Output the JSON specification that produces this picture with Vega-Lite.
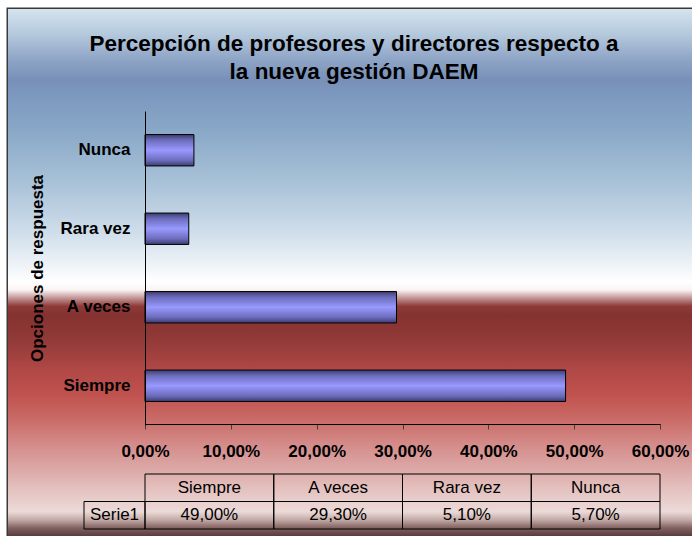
{
  "$schema": "https://vega.github.io/schema/vega-lite/v6.json",
  "width": 684,
  "height": 527,
  "autosize": {"type": "none"},
  "padding": {"left": 8, "top": 9, "right": 0, "bottom": 0},
  "background": "white",
  "config": {
    "font": "Liberation Sans",
    "locale": {"number": {"decimal": ",", "thousands": ".", "grouping": [3], "currency": ["$", ""]}},
    "view": {"stroke": "#3a3a3a", "strokeWidth": 3}
  },
  "title": {
    "text": ["Percepción de profesores y directores respecto a", "la nueva gestión DAEM"],
    "font": "Liberation Sans",
    "fontSize": 22.5,
    "fontWeight": "bold",
    "color": "black",
    "anchor": "middle",
    "frame": "group",
    "baseline": "top",
    "lineHeight": 28,
    "offset": -74,
    "dx": 4
  },
  "datasets": {
    "resp": [
      {"opcion": "Siempre", "valor": 0.49},
      {"opcion": "A veces", "valor": 0.293},
      {"opcion": "Rara vez", "valor": 0.051},
      {"opcion": "Nunca", "valor": 0.057}
    ]
  },
  "layer": [
    {
      "data": {"values": [{"fondo": "gradiente"}]},
      "mark": {
        "type": "rect",
        "fill": {
          "gradient": "linear", "x1": 0, "y1": 0, "x2": 0, "y2": 1,
          "stops": [
            {"offset": 0.0, "color": "#d4e4ef"},
            {"offset": 0.049, "color": "#b4c8dc"},
            {"offset": 0.097, "color": "#8ea4c6"},
            {"offset": 0.135, "color": "#7890b8"},
            {"offset": 0.163, "color": "#7c98bf"},
            {"offset": 0.23, "color": "#89a8c7"},
            {"offset": 0.324, "color": "#a6c0d6"},
            {"offset": 0.419, "color": "#cddcea"},
            {"offset": 0.486, "color": "#eef3f7"},
            {"offset": 0.518, "color": "#ffffff"},
            {"offset": 0.533, "color": "#faf4f4"},
            {"offset": 0.548, "color": "#c49898"},
            {"offset": 0.564, "color": "#8e3a38"},
            {"offset": 0.581, "color": "#843230"},
            {"offset": 0.628, "color": "#923a38"},
            {"offset": 0.685, "color": "#b04846"},
            {"offset": 0.732, "color": "#c0524e"},
            {"offset": 0.78, "color": "#ca6c68"},
            {"offset": 0.827, "color": "#d48c8a"},
            {"offset": 0.875, "color": "#dcaaa8"},
            {"offset": 0.922, "color": "#e6c8c6"},
            {"offset": 0.954, "color": "#ecdad8"},
            {"offset": 0.97, "color": "#c0a8a4"},
            {"offset": 0.985, "color": "#806060"},
            {"offset": 1.0, "color": "#5a3c3c"}
          ]
        }
      },
      "encoding": {}
    },
    {
      "data": {"name": "resp"},
      "mark": {
        "type": "bar",
        "stroke": "black",
        "strokeWidth": 1,
        "fill": {
          "gradient": "linear", "x1": 0, "y1": 0, "x2": 0, "y2": 1,
          "stops": [
            {"offset": 0, "color": "#3c3c70"},
            {"offset": 0.18, "color": "#6c6cbc"},
            {"offset": 0.5, "color": "#9999ff"},
            {"offset": 0.82, "color": "#6c6cbc"},
            {"offset": 1, "color": "#3c3c70"}
          ]
        }
      },
      "encoding": {
        "x": {
          "field": "valor",
          "type": "quantitative",
          "scale": {"domain": [0, 0.6], "range": [137, 652], "nice": false, "zero": true},
          "axis": {
            "zindex": 1,
            "values": [0, 0.1, 0.2, 0.3, 0.4, 0.5, 0.6],
            "format": ".2%",
            "offset": -112,
            "title": null,
            "grid": false,
            "domainColor": "black",
            "domainWidth": 1,
            "tickColor": "#404040",
            "tickSize": 5,
            "labelFont": "Liberation Sans",
            "labelFontSize": 17,
            "labelFontWeight": "bold",
            "labelColor": "black",
            "labelBaseline": "alphabetic",
            "labelPadding": 27,
            "labelFlush": false,
            "labelOverlap": false
          }
        },
        "y": {
          "field": "opcion",
          "type": "nominal",
          "scale": {"domain": ["Nunca", "Rara vez", "A veces", "Siempre"], "range": [102, 416], "paddingInner": 0.6, "paddingOuter": 0.3},
          "axis": {
            "zindex": 1,
            "offset": -137,
            "title": "Opciones de respuesta",
            "titleFont": "Liberation Sans",
            "titleFontSize": 17,
            "titleFontWeight": "bold",
            "titleColor": "black",
            "titlePadding": 14,
            "domainColor": "black",
            "domainWidth": 1,
            "ticks": false,
            "tickSize": 0,
            "labelFont": "Liberation Sans",
            "labelFontSize": 17,
            "labelFontWeight": "bold",
            "labelColor": "black",
            "labelPadding": 15,
            "labelLimit": 300
          }
        }
      }
    },
    {
      "data": {"name": "resp"},
      "encoding": {
        "x": {
          "field": "opcion",
          "type": "nominal",
          "scale": {"type": "band", "domain": ["Siempre", "A veces", "Rara vez", "Nunca"], "range": [137, 652], "paddingInner": 0, "paddingOuter": 0},
          "axis": null
        }
      },
      "layer": [
        {
          "mark": {"type": "rect", "fillOpacity": 0, "stroke": "black", "strokeWidth": 1},
          "encoding": {
            "y": {"datum": "cabecera", "type": "nominal", "scale": {"type": "band", "domain": ["cabecera", "valores"], "range": [465, 520], "paddingInner": 0, "paddingOuter": 0}, "axis": null}
          }
        },
        {
          "mark": {"type": "rect", "fillOpacity": 0, "stroke": "black", "strokeWidth": 1},
          "encoding": {
            "y": {"datum": "valores", "type": "nominal", "scale": {"type": "band", "domain": ["cabecera", "valores"], "range": [465, 520], "paddingInner": 0, "paddingOuter": 0}, "axis": null}
          }
        },
        {
          "mark": {"type": "text", "font": "Liberation Sans", "fontSize": 17, "color": "black", "baseline": "middle", "align": "center"},
          "encoding": {
            "y": {"datum": "cabecera", "type": "nominal", "scale": {"type": "band", "domain": ["cabecera", "valores"], "range": [465, 520], "paddingInner": 0, "paddingOuter": 0}, "axis": null},
            "text": {"field": "opcion", "type": "nominal"}
          }
        },
        {
          "mark": {"type": "text", "font": "Liberation Sans", "fontSize": 17, "color": "black", "baseline": "middle", "align": "center"},
          "encoding": {
            "y": {"datum": "valores", "type": "nominal", "scale": {"type": "band", "domain": ["cabecera", "valores"], "range": [465, 520], "paddingInner": 0, "paddingOuter": 0}, "axis": null},
            "text": {"field": "valor", "type": "quantitative", "format": ".2%"}
          }
        }
      ]
    },
    {
      "data": {"values": [{"serie": "Serie1"}]},
      "encoding": {
        "x": {
          "field": "serie",
          "type": "nominal",
          "scale": {"type": "band", "domain": ["Serie1"], "range": [76, 137], "paddingInner": 0, "paddingOuter": 0},
          "axis": null
        },
        "y": {"datum": "valores", "type": "nominal", "scale": {"type": "band", "domain": ["cabecera", "valores"], "range": [465, 520], "paddingInner": 0, "paddingOuter": 0}, "axis": null}
      },
      "layer": [
        {"mark": {"type": "rect", "fillOpacity": 0, "stroke": "black", "strokeWidth": 1}},
        {
          "mark": {"type": "text", "font": "Liberation Sans", "fontSize": 17, "color": "black", "baseline": "middle", "align": "center"},
          "encoding": {"text": {"field": "serie", "type": "nominal"}}
        }
      ]
    }
  ],
  "resolve": {"scale": {"x": "independent", "y": "independent"}}
}
